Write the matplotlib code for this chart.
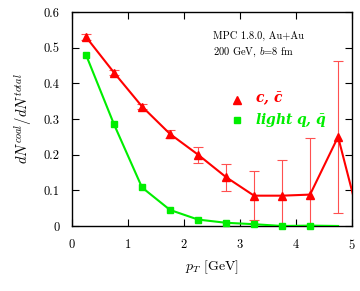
import numpy as np
import matplotlib
matplotlib.use('Agg')
import matplotlib.pyplot as plt

plt.rcParams['font.family'] = 'serif'
plt.rcParams['font.serif'] = ['cmr10', 'DejaVu Serif']
plt.rcParams['mathtext.fontset'] = 'cm'
plt.rcParams['axes.formatter.use_mathtext'] = True

# charm (c, cbar) coalescence fraction
pt_c = [0.25, 0.75, 1.25, 1.75, 2.25, 2.75, 3.25, 3.75, 4.25, 4.75, 5.25]
frac_c = [0.530, 0.430, 0.335, 0.258, 0.200, 0.137, 0.085, 0.085, 0.088, 0.250, -0.055]
err_c = [0.008, 0.006, 0.008, 0.010, 0.022, 0.038, 0.068, 0.100, 0.160, 0.213, 0.0]

# light quarks
pt_q = [0.25, 0.75, 1.25, 1.75, 2.25, 2.75, 3.25, 3.75, 4.25, 4.75]
frac_q = [0.480, 0.285, 0.108, 0.045, 0.018, 0.009, 0.005, 0.000, 0.001, 0.000]

fig = plt.figure(figsize=(3.6, 2.91), dpi=100)
ax = fig.add_axes([0.2, 0.2234, 0.778, 0.7354])

red = '#ff0000'
green = '#00ee00'

ax.errorbar(pt_c[:-1], frac_c[:-1], yerr=err_c[:-1], fmt='none',
            ecolor='#ff5050', elinewidth=0.8, capsize=3.5, capthick=0.8,
            zorder=2)
ax.plot(pt_c, frac_c, '-', color=red, lw=1.5, zorder=3)
ax.plot(pt_c[:-1], frac_c[:-1], '^', color=red, ms=6, zorder=4,
        clip_on=False)
ax.plot(pt_q, frac_q, '-', color=green, lw=1.5, zorder=3)
ax.plot(pt_q[:-1], frac_q[:-1], 's', color=green, ms=5, zorder=4,
        clip_on=False)

ax.set_xlim(0, 5)
ax.set_ylim(0, 0.6)
ax.set_xticks(np.arange(0, 6, 1))
ax.set_yticks(np.arange(0, 0.61, 0.1))
ax.set_yticklabels(['0', '0.1', '0.2', '0.3', '0.4', '0.5', '0.6'])
ax.tick_params(direction='in', top=True, right=True, length=5, width=0.8,
               labelsize=9, pad=9)
for s in ax.spines.values():
    s.set_linewidth(1.0)

ax.set_xlabel(r'$p_T$ [GeV]', fontsize=10)
ax.set_ylabel(r'$dN^{coal}/dN^{total}$', fontsize=10.5, labelpad=7)

ax.text(0.505, 0.875, 'MPC 1.8.0, Au+Au', transform=ax.transAxes,
        fontsize=7.5)
ax.text(0.505, 0.8, r'200 GeV, $b$=8 fm', transform=ax.transAxes,
        fontsize=7.5)

# legend drawn by hand-placed handles in axes coords
ax.plot([0.59], [0.59], '^', color=red, ms=5.5, transform=ax.transAxes)
ax.plot([0.59], [0.495], 's', color=green, ms=5, transform=ax.transAxes)
ax.text(0.655, 0.59, r'$\mathbfit{c,\,\bar{c}}$', color=red, fontsize=10,
        transform=ax.transAxes, va='center', math_fontfamily='dejavuserif')
ax.text(0.655, 0.495, r'$\mathbfit{light\ q,\,\bar{q}}$', color=green,
        fontsize=10, transform=ax.transAxes, va='center',
        math_fontfamily='dejavuserif')

fig.savefig('out.png', dpi=100)
